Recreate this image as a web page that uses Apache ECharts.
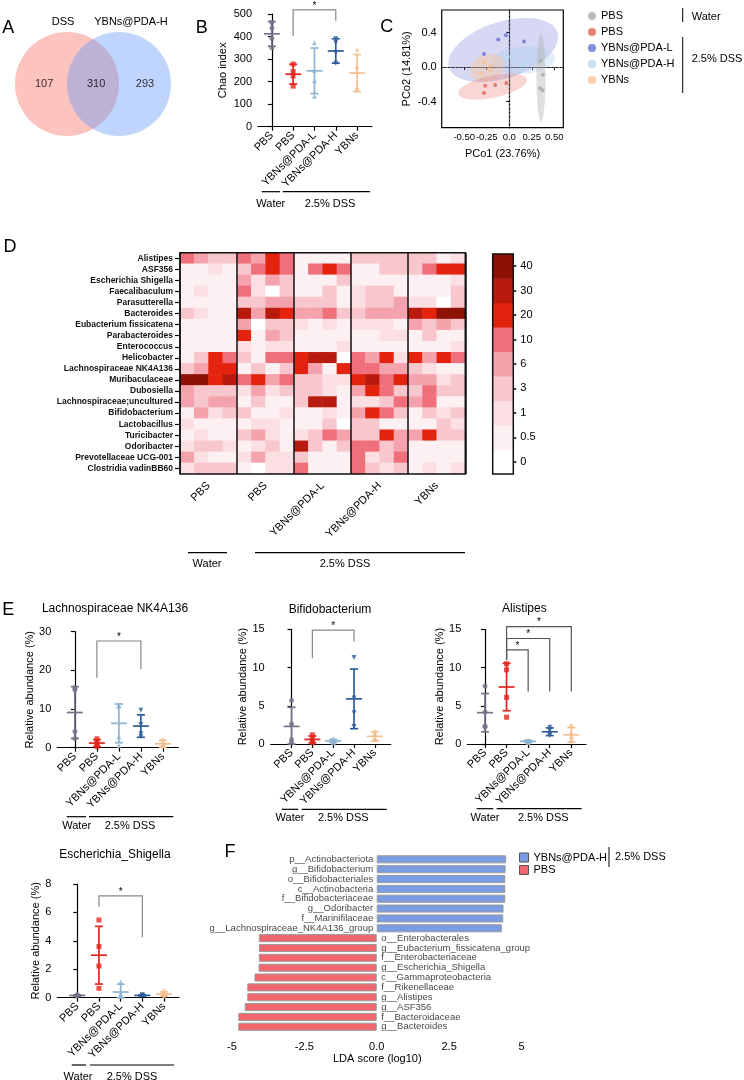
<!DOCTYPE html>
<html><head><meta charset="utf-8">
<script src="https://cdn.jsdelivr.net/npm/echarts@6/dist/echarts.min.js"></script>
<style>html,body{margin:0;padding:0;background:#fff}#c{width:744px;height:1080px}</style>
</head><body><div id="c"></div>
<script>
// ================= DATA =================
const vennSets = ['DSS', 'YBNs@PDA-H'];
const vennCounts = [107, 310, 293];

const groupNames = ['PBS', 'PBS', 'YBNs@PDA-L', 'YBNs@PDA-H', 'YBNs'];
const treatments = ['Water', '2.5% DSS'];

// B: Chao index
const chaoPoints = [[462, 438, 392, 350], [278, 245, 225, 180], [372, 250, 205, 135], [390, 372, 328, 282], [338, 260, 168, 158]];
const chaoMean = [412, 233, 248, 336, 238];
const chaoSD = [55, 44, 101, 54, 82];
const chaoBrackets = [[1, 3, 518, 402, 470]];

// C: PCoA
const pcoaLegend = ['PBS', 'PBS', 'YBNs@PDA-L', 'YBNs@PDA-H', 'YBNs'];
const pcoaWaterPBS = [[0.352, 0.074], [0.374, -0.089], [0.344, -0.245], [0.37, -0.268]];
const pcoaDssPBS = [[-0.267, -0.214], [-0.156, -0.206], [-0.033, -0.183], [-0.281, -0.299]];
const pcoaPDAL = [[-0.122, 0.318], [-0.037, 0.369], [0.163, 0.295], [-0.281, 0.151]];
const pcoaPDAH = [[0.015, 0.12], [0.274, 0.12], [0.193, 0.058], [0.137, 0.019]];
const pcoaYBNs = [[-0.278, 0.058], [-0.322, -0.07], [-0.21, 0.01], [-0.21, -0.035]];
// ellipses: centre x, centre y, semi-axis a, semi-axis b, angle(deg); order PDA-L, PDA-H, YBNs, PBS(DSS), PBS(Water)
const pcoaEllipses = [[-0.067, 0.198, 0.633, 0.326, 18], [0.156, 0.082, 0.352, 0.16, 5], [-0.244, -0.008, 0.2, 0.152, 20], [-0.185, -0.225, 0.389, 0.128, 12], [0.352, -0.12, 0.489, 0.052, 90]];

// D: heatmap
const heatGenera = ['Alistipes', 'ASF356', 'Escherichia Shigella', 'Faecalibaculum', 'Parasutterella', 'Bacteroides', 'Eubacterium fissicatena', 'Parabacteroides', 'Enterococcus', 'Helicobacter', 'Lachnospiraceae NK4A136', 'Muribaculaceae', 'Dubosiella', 'Lachnospiraceae;uncultured', 'Bifidobacterium', 'Lactobacillus', 'Turicibacter', 'Odoribacter', 'Prevotellaceae UCG-001', 'Clostridia vadinBB60'];
const heatGroups = ['PBS', 'PBS', 'YBNs@PDA-L', 'YBNs@PDA-H', 'YBNs'];
const heatLevels = [0, 0.5, 1, 3, 6, 10, 20, 30, 40];
const heatValues = [
  [10, 6, 3, 3, 10, 6, 20, 10, 0.5, 0.5, 0.5, 0.5, 3, 3, 3, 3, 3, 3, 0.5, 1],
  [0.5, 0.5, 1, 0.5, 3, 10, 20, 10, 0.5, 10, 20, 10, 0.5, 0.5, 3, 3, 3, 10, 20, 20],
  [0.5, 0.5, 0.5, 0.5, 6, 1, 6, 3, 0.5, 0.5, 0.5, 3, 0.5, 0.5, 0.5, 0.5, 0.5, 0.5, 0.5, 1],
  [0.5, 1, 0.5, 0.5, 10, 1, 0, 3, 0.5, 0.5, 3, 0.5, 1, 3, 3, 0.5, 0.5, 0.5, 0.5, 3],
  [0.5, 0.5, 0.5, 0.5, 3, 3, 6, 6, 3, 3, 3, 0.5, 1, 3, 3, 6, 1, 1, 0, 3],
  [3, 1, 0.5, 0.5, 30, 6, 30, 20, 6, 6, 10, 3, 3, 6, 6, 6, 30, 20, 40, 40],
  [0.5, 0.5, 0.5, 0.5, 6, 0, 3, 3, 1, 0.5, 1, 0.5, 1, 1, 1, 0.5, 6, 3, 6, 3],
  [0.5, 0.5, 0.5, 0.5, 20, 0.5, 6, 3, 0.5, 0.5, 0.5, 0.5, 0.5, 0.5, 1, 1, 0.5, 3, 0.5, 0.5],
  [0.5, 0.5, 0.5, 0.5, 1, 0.5, 1, 1, 0.5, 0.5, 0.5, 1, 0.5, 0.5, 0.5, 0.5, 0.5, 0.5, 0.5, 1],
  [0.5, 3, 20, 10, 3, 0.5, 10, 10, 20, 30, 30, 0, 10, 6, 20, 1, 20, 6, 20, 10],
  [3, 6, 20, 20, 0.5, 3, 0.5, 3, 20, 6, 0.5, 20, 10, 10, 6, 6, 3, 1, 0.5, 0.5],
  [40, 40, 20, 30, 10, 20, 6, 10, 3, 3, 1, 1, 20, 30, 10, 20, 6, 6, 1, 3],
  [6, 3, 3, 3, 1, 6, 1, 3, 3, 3, 1, 0.5, 6, 20, 10, 3, 3, 10, 3, 3],
  [6, 3, 6, 6, 0.5, 3, 0.5, 0.5, 3, 30, 30, 0.5, 1, 1, 3, 10, 6, 10, 0.5, 0.5],
  [0.5, 6, 1, 3, 3, 0.5, 0.5, 1, 0.5, 0.5, 1, 0.5, 6, 20, 10, 3, 0.5, 3, 1, 3],
  [1, 0.5, 0.5, 0.5, 0.5, 1, 1, 0.5, 0.5, 0.5, 3, 0, 3, 3, 0.5, 0.5, 0.5, 0.5, 3, 1],
  [0.5, 1, 0.5, 0.5, 3, 6, 1, 0.5, 1, 3, 10, 6, 3, 3, 20, 6, 6, 20, 3, 3],
  [1, 3, 3, 1, 0.5, 1, 3, 0.5, 30, 3, 0.5, 3, 10, 10, 3, 6, 0.5, 0.5, 0.5, 0.5],
  [6, 1, 0.5, 0.5, 1, 6, 1, 1, 3, 0.5, 0.5, 0.5, 10, 1, 3, 10, 0.5, 0.5, 0.5, 0.5],
  [1, 3, 3, 3, 0.5, 0, 1, 1, 10, 0.5, 0.5, 0.5, 10, 3, 1, 3, 0.5, 1, 0.5, 1]
];

// E: relative abundance
const lachnoPoints = [[15.5, 15.0, 4.2, 2.4], [2.3, 1.5, 0.8, 0.3], [11.0, 10.8, 2.8, 0.6], [9.7, 6.0, 3.6, 2.9], [2.0, 1.2, 0.5, 0.3]];
const lachnoMean = [9.1, 1.2, 6.3, 5.6, 1.0];
const lachnoSD = [6.7, 0.9, 5.0, 2.9, 0.9];
const lachnoBrackets = [[1, 3, 27.6, 18.1, 20.3]];

const bifidoPoints = [[5.7, 2.6, 0.6, 0.2], [1.2, 0.8, 0.3, 0.2], [0.7, 0.4, 0.3, 0.2], [11.3, 6.0, 4.1, 2.3], [1.6, 1.2, 0.6, 0.5]];
const bifidoMean = [2.3, 0.6, 0.4, 5.9, 1.0];
const bifidoSD = [2.5, 0.45, 0.2, 3.9, 0.6];
const bifidoBrackets = [[1, 3, 14.9, 11.2, 13.4]];

const alistPoints = [[7.6, 4.2, 2.3, 2.3], [10.5, 9.7, 6.1, 3.5], [0.5, 0.4, 0.3, 0.2], [2.2, 1.8, 1.3, 1.1], [2.4, 1.3, 0.8, 0.3]];
const alistMean = [4.1, 7.45, 0.35, 1.6, 1.2];
const alistSD = [2.5, 3.1, 0.15, 0.5, 0.95];
const alistBrackets = [[1, 2, 12.3, 11.0, 6.85], [1, 3, 13.8, 11.0, 6.85], [1, 4, 15.35, 11.0, 6.85]];

const eschPoints = [[0.2, 0.18, 0.15, 0.12], [5.47, 3.6, 2.23, 0.66], [1.1, 0.3, 0.1, 0.1], [0.2, 0.18, 0.14, 0.12], [0.45, 0.3, 0.15, 0.1]];
const eschMean = [0.16, 2.99, 0.4, 0.16, 0.25];
const eschSD = [0.04, 2.03, 0.55, 0.04, 0.15];
const eschBrackets = [[1, 3, 7.16, 6.4, 4.25]];

// F: LDA
const ldaTaxa = ['p__Actinobacteriota', 'g__Bifidobacterium', 'o__Bifidobacteriales', 'c__Actinobacteria', 'f__Bifidobacteriaceae', 'g__Odoribacter', 'f__Marinifilaceae', 'g__Lachnospiraceae_NK4A136_group', 'o__Enterobacterales', 'g__Eubacterium_fissicatena_group', 'f__Enterobacteriaceae', 'g__Escherichia_Shigella', 'c__Gammaproteobacteria', 'f__Rikenellaceae', 'g__Alistipes', 'g__ASF356', 'f__Bacteroidaceae', 'g__Bacteroides'];
const ldaScores = [4.47, 4.45, 4.44, 4.44, 4.44, 4.38, 4.37, 4.32, -4.07, -4.07, -4.07, -4.08, -4.22, -4.47, -4.47, -4.56, -4.78, -4.78];
const ldaGroups = ['YBNs@PDA-H', 'PBS'];

// ================= STYLE =================
const FONT = '"Liberation Sans", Arial, Helvetica, sans-serif';
const gColors = ['#74738A', '#E3261D', '#8DB4D2', '#2C5C9C', '#F5BF8D'];
const gSymbols = ['circle', 'rect', 'triangle', 'path://M0,0L10,0L5,8.66Z', 'diamond'];
const pcoaColors = ['#A9A9A9', '#E0625A', '#6B6FD4', '#B7D8F0', '#F6C393'];
const ellColors = ['rgba(110,115,215,0.28)', 'rgba(175,210,240,0.38)', 'rgba(248,200,160,0.45)', 'rgba(228,120,110,0.30)', 'rgba(175,175,175,0.40)'];
const heatColors = ['#FFFFFF', '#FDF0F2', '#FBDFE3', '#F8C6CD', '#F4A3AD', '#EF6F7A', '#E4230E', '#B81B0D', '#8C1206'];

const option = { animation: false, textStyle: { fontFamily: FONT }, grid: [], xAxis: [], yAxis: [], series: [], legend: [], graphic: [], visualMap: [] };
const addGrid = g => (option.grid.push(g), option.grid.length - 1);
const addX = a => (option.xAxis.push(a), option.xAxis.length - 1);
const addY = a => (option.yAxis.push(a), option.yAxis.length - 1);
const addS = s => (option.series.push(s), option.series.length - 1);
const blackAxis = { lineStyle: { color: '#000', width: 1.2 } };

function gText(x, y, text, size, align, weight) {
  option.graphic.push({ type: 'text', x, y, z: 100, style: { text, fontSize: size, fontFamily: FONT, fill: '#000', align: align || 'center', verticalAlign: 'middle', fontWeight: weight || 'normal' } });
}
function gLine(x1, y1, x2, y2, w) {
  option.graphic.push({ type: 'line', z: 100, shape: { x1, y1, x2, y2 }, style: { stroke: '#000', lineWidth: w || 1.2 } });
}
function treatLabels(w1, w2, d1, d2, ly, ty, wx, dx) {
  gLine(w1, ly, w2, ly); gLine(d1, ly, d2, ly);
  gText(wx, ty, treatments[0], 11); gText(dx, ty, treatments[1], 11);
}

function errRender(params, api) {
  const x = api.value(0), m = api.value(1), s = api.value(2);
  const pm = api.coord([x, m]), pt = api.coord([x, m + s]), pb = api.coord([x, Math.max(0, m - s)]);
  const st = { stroke: gColors[params.dataIndex], lineWidth: 1.7 };
  const L = (x1, y1, x2, y2) => ({ type: 'line', shape: { x1, y1, x2, y2 }, style: st });
  return { type: 'group', children: [L(pt[0], pt[1], pb[0], pb[1]), L(pt[0] - 4, pt[1], pt[0] + 4, pt[1]), L(pb[0] - 4, pb[1], pb[0] + 4, pb[1]), L(pm[0] - 8, pm[1], pm[0] + 8, pm[1])] };
}
function bracketRender(color) {
  return function (params, api) {
    const x1 = api.value(0), x2 = api.value(1), yt = api.value(2), yl = api.value(3), yr = api.value(4);
    const a = api.coord([x1, yl]), b = api.coord([x1, yt]), c = api.coord([x2, yt]), d = api.coord([x2, yr]);
    return { type: 'group', children: [
      { type: 'polyline', shape: { points: [a, b, c, d] }, style: { stroke: color, lineWidth: 1.2, fill: null } },
      { type: 'text', x: (b[0] + c[0]) / 2, y: b[1] + 1, style: { text: '*', fontSize: 10, fill: '#000', align: 'center', verticalAlign: 'bottom', fontFamily: FONT } }
    ] };
  };
}

function dotPlot(gcfg, yMax, yInt, xMin, xMax, yName, nameGap, pts, mean, sd, brackets, bColor) {
  const gi = addGrid(gcfg);
  const xi = addX({ gridIndex: gi, type: 'value', min: xMin, max: xMax, splitLine: { show: false }, axisLine: blackAxis,
    axisTick: { length: 4, lineStyle: { color: '#000', width: 1.2 }, customValues: [0, 1, 2, 3, 4] },
    axisLabel: { customValues: [0, 1, 2, 3, 4], formatter: v => groupNames[Math.round(v)], rotate: 45, fontSize: 11, color: '#000', margin: 7, hideOverlap: false } });
  const yi = addY({ gridIndex: gi, type: 'value', min: 0, max: yMax, interval: yInt, name: yName, nameLocation: 'middle', nameGap, nameTextStyle: { fontSize: 11, color: '#000' },
    splitLine: { show: false }, axisLine: { show: true, lineStyle: { color: '#000', width: 1.2 } }, axisTick: { show: true, length: 4, lineStyle: { color: '#000', width: 1.2 } },
    axisLabel: { fontSize: 11, color: '#000', margin: 6 } });
  addS({ type: 'custom', xAxisIndex: xi, yAxisIndex: yi, data: mean.map((m, i) => [i, m, sd[i]]), renderItem: errRender, encode: { x: 0, y: 1 }, clip: false, z: 3 });
  const data = [];
  pts.forEach((arr, g) => arr.forEach(v => data.push({ value: [g, v], symbol: gSymbols[g], itemStyle: { color: gColors[g] } })));
  addS({ type: 'scatter', xAxisIndex: xi, yAxisIndex: yi, data, symbolSize: 5, z: 4 });
  addS({ type: 'custom', xAxisIndex: xi, yAxisIndex: yi, data: brackets, renderItem: bracketRender(bColor), encode: { x: 0, y: 2 }, clip: false, z: 5 });
}

// ---------- A: Venn ----------
(function () {
  const gi = addGrid({ left: 15, top: 32, width: 157, height: 104 });
  const xi = addX({ gridIndex: gi, type: 'value', min: 0, max: 3.02, show: false });
  const yi = addY({ gridIndex: gi, type: 'value', min: 0, max: 2, show: false });
  addS({ type: 'scatter', xAxisIndex: xi, yAxisIndex: yi, symbolSize: 104, silent: true,
    data: [{ value: [1, 1], itemStyle: { color: 'rgba(248,118,109,0.55)' } }, { value: [2, 1], itemStyle: { color: 'rgba(97,150,250,0.5)' } }] });
  addS({ type: 'scatter', xAxisIndex: xi, yAxisIndex: yi, symbolSize: 1, itemStyle: { color: 'rgba(0,0,0,0)' }, z: 5,
    data: [[0.56, 1, vennCounts[0]], [1.56, 1, vennCounts[1]], [2.5, 1, vennCounts[2]]],
    label: { show: true, position: 'inside', formatter: p => p.value[2], fontSize: 11, color: '#000' } });
  gText(63, 22, vennSets[0], 11); gText(131, 22, vennSets[1], 11);
})();

// ---------- B: Chao ----------
dotPlot({ left: 258, top: 14, width: 114, height: 112.7 }, 500, 100, -0.65, 4.7, 'Chao index', 30, chaoPoints, chaoMean, chaoSD, chaoBrackets, '#888');
treatLabels(261.7, 280, 282.7, 370, 191.7, 204, 270.8, 330);

// ---------- C: PCoA ----------
(function () {
  const gi = addGrid({ left: 441.7, top: 10, width: 121.6, height: 117.7, show: true, borderColor: '#000', borderWidth: 1.2, z: 6 });
  const xi = addX({ gridIndex: gi, type: 'value', min: -0.75, max: 0.6, splitLine: { show: false }, axisLine: blackAxis,
    axisTick: { length: 3, lineStyle: { color: '#000' }, customValues: [-0.5, -0.25, 0, 0.25, 0.5] },
    axisLabel: { customValues: [-0.5, -0.25, 0, 0.25, 0.5], formatter: v => v === 0 ? '0.0' : v.toFixed(2), fontSize: 9.5, color: '#000', margin: 5, hideOverlap: false, showMinLabel: true, showMaxLabel: true },
    name: 'PCo1 (23.76%)', nameLocation: 'middle', nameGap: 21, nameTextStyle: { fontSize: 11, color: '#000' } });
  const yi = addY({ gridIndex: gi, type: 'value', min: -0.7, max: 0.66, splitLine: { show: false }, axisLine: blackAxis,
    axisTick: { length: 3, lineStyle: { color: '#000' }, customValues: [-0.4, 0, 0.4] },
    axisLabel: { customValues: [-0.4, 0, 0.4], formatter: v => v.toFixed(1), fontSize: 11, color: '#000', margin: 5, showMinLabel: true, showMaxLabel: true },
    name: 'PCo2 (14.81%)', nameLocation: 'middle', nameGap: 29, nameTextStyle: { fontSize: 11, color: '#000' } });
  addS({ type: 'custom', xAxisIndex: xi, yAxisIndex: yi, data: pcoaEllipses, encode: { x: 0, y: 1 }, z: 1, silent: true,
    renderItem: function (params, api) {
      const c = api.coord([api.value(0), api.value(1)]); const sz = api.size([1, 1]);
      const a = api.value(2) * sz[0], b = api.value(3) * sz[1], th = api.value(4) * Math.PI / 180;
      const pts = [];
      for (let k = 0; k < 72; k++) {
        const t = k / 72 * Math.PI * 2;
        pts.push([c[0] + a * Math.cos(t) * Math.cos(th) + b * Math.sin(t) * Math.sin(th), c[1] - a * Math.cos(t) * Math.sin(th) + b * Math.sin(t) * Math.cos(th)]);
      }
      return { type: 'polygon', shape: { points: pts }, style: { fill: ellColors[params.dataIndex], stroke: null } };
    } });
  const sets = [pcoaWaterPBS, pcoaDssPBS, pcoaPDAL, pcoaPDAH, pcoaYBNs];
  const names = ['c0', 'c1', 'c2', 'c3', 'c4'];
  sets.forEach((d, i) => addS({ type: 'scatter', name: names[i], xAxisIndex: xi, yAxisIndex: yi, data: d, symbolSize: 4, itemStyle: { color: pcoaColors[i] }, z: 4,
    markLine: i === 0 ? { silent: true, symbol: 'none', label: { show: false }, lineStyle: { color: '#777', type: [2, 2], width: 1 }, data: [{ xAxis: 0 }, { yAxis: 0 }] } : undefined }));
  option.legend.push({ data: names, orient: 'vertical', left: 583, top: 5, icon: 'circle', itemWidth: 8, itemHeight: 8, itemGap: 4,
    textStyle: { fontSize: 11, color: '#000', lineHeight: 12 }, formatter: n => pcoaLegend[names.indexOf(n)], selectedMode: false });
  gLine(682.7, 8, 682.7, 22, 1); gLine(682.7, 37, 682.7, 93, 1);
  gText(691.7, 16.7, treatments[0], 11, 'left'); gText(691.7, 59, treatments[1], 11, 'left');
})();

// ---------- D: heatmap ----------
let heatIdx, cbIdx;
(function () {
  const gi = addGrid({ left: 180, top: 252.7, width: 285.3, height: 221.3, show: true, borderColor: '#111', borderWidth: 1.5, z: 10 });
  const cols = heatValues[0].map((_, i) => 's' + i);
  const xi = addX({ gridIndex: gi, type: 'category', data: cols, show: false });
  addX({ gridIndex: gi, type: 'category', data: heatGroups.map((_, i) => 'g' + i), position: 'bottom', z: 10,
    axisLine: { show: false }, axisTick: { show: false },
    axisLabel: { interval: 0, rotate: 45, fontSize: 11, color: '#000', margin: 10, formatter: (v, i) => heatGroups[i] },
    splitLine: { show: true, interval: 0, lineStyle: { color: '#111', width: 1.5 } } });
  const yi = addY({ gridIndex: gi, type: 'category', data: heatGenera, inverse: true, axisLine: { show: false },
    axisTick: { show: true, length: 5, alignWithLabel: true, lineStyle: { color: '#000', width: 1.2 } },
    axisLabel: { interval: 0, fontSize: 8.5, fontWeight: 'bold', color: '#111', margin: 7 } });
  const data = [];
  heatValues.forEach((row, r) => row.forEach((v, c) => data.push([c, r, v])));
  heatIdx = addS({ type: 'heatmap', xAxisIndex: xi, yAxisIndex: yi, data, itemStyle: { borderWidth: 0 } });
  // colour bar
  const g2 = addGrid({ left: 492.7, top: 254, width: 20.6, height: 220, show: true, borderColor: '#111', borderWidth: 1.5, z: 10 });
  const x2 = addX({ gridIndex: g2, type: 'category', data: ['v'], show: false });
  const y2 = addY({ gridIndex: g2, type: 'category', data: heatLevels.map(String), position: 'right', axisLine: { show: false },
    axisTick: { show: true, length: 3, alignWithLabel: true, lineStyle: { color: '#000', width: 1.5 } },
    axisLabel: { fontSize: 11, color: '#000', margin: 7 } });
  addY({ gridIndex: g2, type: 'category', data: heatLevels.map(String), position: 'left', axisLine: { show: false },
    axisTick: { show: true, inside: true, length: 3, alignWithLabel: true, lineStyle: { color: '#000', width: 1.5 } }, axisLabel: { show: false } });
  cbIdx = addS({ type: 'heatmap', xAxisIndex: x2, yAxisIndex: y2, data: heatLevels.map((v, i) => [0, i, v]) });
  option.visualMap.push({ type: 'piecewise', show: false, dimension: 2, seriesIndex: [heatIdx, cbIdx],
    pieces: heatLevels.map((v, i) => ({ value: v, color: heatColors[i] })) });
  treatLabels(188, 227, 255, 465, 552.7, 564, 207, 345);
})();

// ---------- E ----------
dotPlot({ left: 57.3, top: 631.7, width: 121, height: 116 }, 30, 10, -0.8, 4.7, 'Relative abundance (%)', 20, lachnoPoints, lachnoMean, lachnoSD, lachnoBrackets, '#888');
dotPlot({ left: 270.7, top: 629.3, width: 120, height: 114.7 }, 15, 5, -1.0, 4.76, 'Relative abundance (%)', 17, bifidoPoints, bifidoMean, bifidoSD, bifidoBrackets, '#888');
dotPlot({ left: 467.3, top: 629.3, width: 118.7, height: 114.7 }, 15, 5, -0.82, 4.68, 'Relative abundance (%)', 20, alistPoints, alistMean, alistSD, alistBrackets, '#555');
dotPlot({ left: 57.3, top: 884, width: 121.7, height: 113.7 }, 8, 2, -0.92, 4.69, 'Relative abundance (%)', 15, eschPoints, eschMean, eschSD, eschBrackets, '#888');
gText(115, 608.3, 'Lachnospiraceae NK4A136', 12);
gText(330, 609.3, 'Bifidobacterium', 12);
gText(524.3, 608.3, 'Alistipes', 12);
gText(115, 854.3, 'Escherichia_Shigella', 12);
treatLabels(66.7, 86, 89, 173.3, 816.7, 825.5, 76.7, 130);
treatLabels(281.7, 298.3, 301.7, 386.7, 809.3, 818.3, 290, 343.3);
treatLabels(476.7, 493.3, 496.7, 581.7, 808.7, 818.3, 485, 543.3);
treatLabels(71.7, 86, 90, 174, 1065, 1077, 78, 132);

// ---------- F: LDA ----------
(function () {
  const gi = addGrid({ left: 227.3, top: 854.4, width: 300, height: 177.3 });
  const xi = addX({ gridIndex: gi, type: 'value', min: -5.16, max: 5.2, offset: 6, splitLine: { show: false }, axisLine: blackAxis,
    axisTick: { length: 4, lineStyle: { color: '#000', width: 1.2 }, customValues: [-5, -2.5, 0, 2.5, 5] },
    axisLabel: { customValues: [-5, -2.5, 0, 2.5, 5], formatter: v => v === 0 ? '0.0' : String(v), fontSize: 11, color: '#000', margin: 4, showMinLabel: true, showMaxLabel: true },
    name: 'LDA score (log10)', nameLocation: 'middle', nameGap: 14, nameTextStyle: { fontSize: 11, color: '#000' } });
  const yi = addY({ gridIndex: gi, type: 'category', data: ldaTaxa, inverse: true, show: false });
  const bs = { borderColor: '#9a9a9a', borderWidth: 1 };
  addS({ type: 'bar', name: ldaGroups[0], xAxisIndex: xi, yAxisIndex: yi, stack: 'lda', barCategoryGap: '18%',
    data: ldaScores.map(v => v > 0 ? v : '-'), itemStyle: Object.assign({ color: '#7B9CE2' }, bs) });
  addS({ type: 'bar', name: ldaGroups[1], xAxisIndex: xi, yAxisIndex: yi, stack: 'lda', barCategoryGap: '18%',
    data: ldaScores.map(v => v < 0 ? v : '-'), itemStyle: Object.assign({ color: '#F2666E' }, bs) });
  addS({ type: 'scatter', name: 'ldaLabels', xAxisIndex: xi, yAxisIndex: yi, symbolSize: 1, itemStyle: { color: 'rgba(0,0,0,0)' }, z: 5, silent: true,
    data: ldaScores.map((v, i) => ({ value: [0, i], label: { show: true, position: v > 0 ? 'left' : 'right', distance: v > 0 ? 3 : 4, formatter: ldaTaxa[i], fontSize: 9.5, color: '#111' } })) });
  option.legend.push({ data: ldaGroups, orient: 'vertical', left: 514, top: 847, icon: 'rect', itemWidth: 9, itemHeight: 9, itemGap: 1.5, itemStyle: { borderColor: '#555', borderWidth: 1 },
    textStyle: { fontSize: 11, color: '#000', lineHeight: 10 }, selectedMode: false });
  gLine(609, 847, 609, 867, 1);
  gText(615, 856.7, '2.5% DSS', 11, 'left');
})();

// panel letters
gText(8.3, 28.3, 'A', 18); gText(201.7, 28.3, 'B', 18); gText(386.7, 26.7, 'C', 18);
gText(10, 246.7, 'D', 18); gText(8.3, 610, 'E', 18); gText(230, 851.7, 'F', 18);

const chart = echarts.init(document.getElementById('c'), null, { renderer: 'canvas' });
chart.setOption(option);
</script>
</body></html>
